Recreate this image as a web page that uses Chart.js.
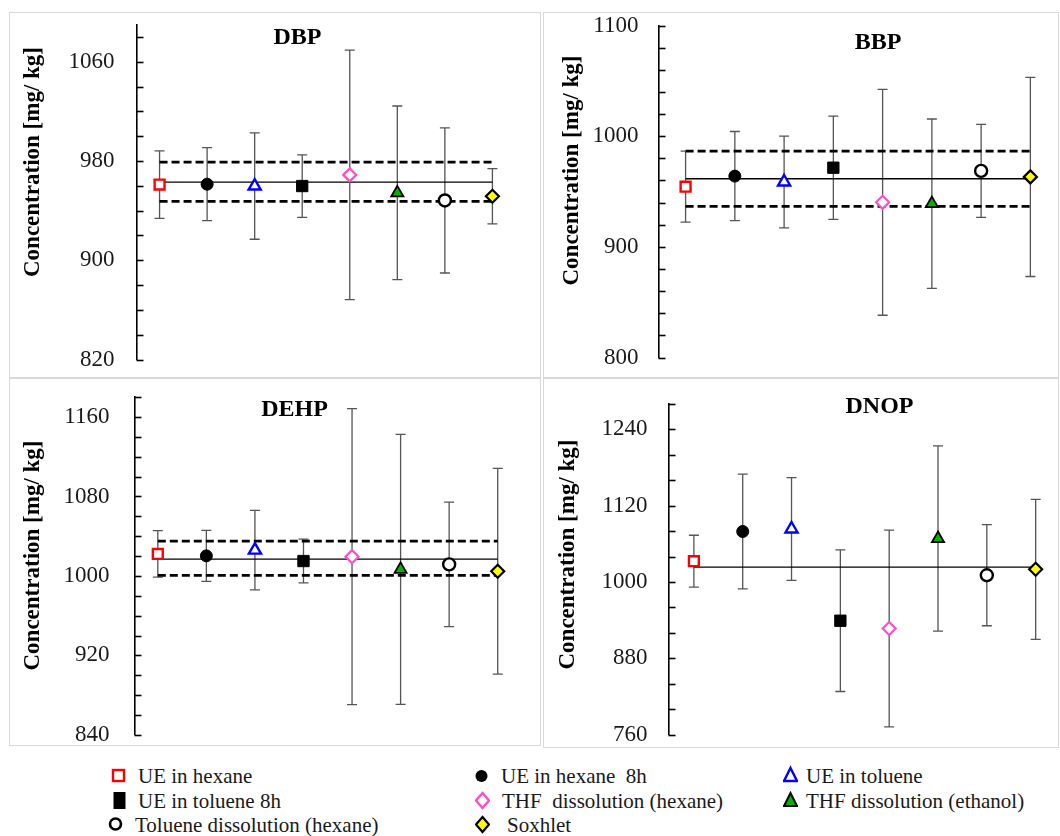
<!DOCTYPE html>
<html>
<head>
<meta charset="utf-8">
<script src="https://cdn.jsdelivr.net/npm/chart.js@4.4.1/dist/chart.umd.min.js"></script>
<style>
  body { margin: 0; background: #fff; font-family: 'Liberation Serif', Tinos, 'Times New Roman', 'DejaVu Serif', 'Noto Serif', serif; }
  .panel { position: absolute; border: 1.5px solid #d9d9d9; box-sizing: border-box; }
  .legend-item { position: absolute; height: 24px; line-height: 24px; font-size: 21px; color: #1a1a1a; white-space: pre; }
  .legend-item svg { position: absolute; top: 0; }
</style>
</head>
<body>
<div class="panel" style="left:9px;top:12px;width:532px;height:366px"><canvas id="dbp"></canvas></div>
<div class="panel" style="left:543px;top:12px;width:516px;height:366px"><canvas id="bbp"></canvas></div>
<div class="panel" style="left:9px;top:378px;width:532px;height:368px"><canvas id="dehp"></canvas></div>
<div class="panel" style="left:543px;top:378px;width:516px;height:370px"><canvas id="dnop"></canvas></div>
<div id="legend"></div>

<script>
// extraction methods, one marker each
const methods = ['UE in hexane', 'UE in hexane  8h', 'UE in toluene', 'UE in toluene 8h',
  'THF  dissolution (hexane)', 'THF dissolution (ethanol)', 'Toluene dissolution (hexane)', 'Soxhlet'];

// DBP
const dbpValues = [961, 961.3, 959.8, 959.8, 968.8, 954.3, 948.2, 951.6];
const dbpErrors = [27.2, 29.4, 42.9, 25.2, 100.6, 70, 58.5, 22.3];
const dbpRef = 963;
const dbpBand = [947.5, 979];
const dbpTicks = [820, 900, 980, 1060];

// BBP
const bbpValues = [954.4, 963.9, 958.6, 971.5, 940.2, 939, 968.6, 963.2];
const bbpErrors = [32, 40.3, 41.4, 46.6, 102, 76.5, 42, 90];
const bbpRef = 961.5;
const bbpBand = [936.5, 986.5];
const bbpTicks = [800, 900, 1000, 1100];

// DEHP
const dehpValues = [1022.2, 1020.2, 1026, 1015, 1019.4, 1006.6, 1011.6, 1004.7];
const dehpErrors = [23.5, 25.6, 40, 22, 149, 136, 62.7, 103.6];
const dehpRef = 1017;
const dehpBand = [1000.5, 1035];
const dehpTicks = [840, 920, 1000, 1080, 1160];

// DNOP
const dnopValues = [1032.8, 1079.4, 1083.3, 939.2, 927.1, 1068.4, 1010.7, 1020];
const dnopErrors = [40.7, 90, 80.7, 111.2, 154.6, 145.4, 79.4, 110];
const dnopRef = 1023.5;
const dnopBand = null;
const dnopTicks = [760, 880, 1000, 1120, 1240];

const serif = "'Liberation Serif', Tinos, 'Times New Roman', 'DejaVu Serif', 'Noto Serif', serif";

const markers = [
  { style: 'rect', r: 7, bg: '#ffffff', bd: '#ff0000', bw: 2.4 },
  { style: 'circle', r: 6, bg: '#000000', bd: '#000000', bw: 1 },
  { style: 'triangle', r: 7, bg: '#ffffff', bd: '#0000ff', bw: 2.4 },
  { style: 'rect', r: 8, bg: '#000000', bd: '#000000', bw: 1 },
  { style: 'rectRot', r: 6.5, bg: '#ffffff', bd: '#ff4dc4', bw: 2.2 },
  { style: 'triangle', r: 7, bg: '#00b400', bd: '#000000', bw: 1.8 },
  { style: 'circle', r: 6, bg: '#ffffff', bd: '#000000', bw: 2.4 },
  { style: 'rectRot', r: 6.5, bg: '#ffff00', bd: '#000000', bw: 2.2 }
];

const panels = {
  dbp: { title: 'DBP', values: dbpValues, errors: dbpErrors, ref: dbpRef, band: dbpBand, labels: dbpTicks,
    min: 820, max: 1090, step: 20, axisW: 126.5, pad: { top: 11.5, bottom: 17.5, right: 23.8 },
    xMin: 0.515, xMax: 8.5, labelPad: 22, yTitle: [23.5, 149], tTitle: [287.5, 24.5] },
  bbp: { title: 'BBP', values: bbpValues, errors: bbpErrors, ref: bbpRef, band: bbpBand, labels: bbpTicks,
    min: 800, max: 1100, step: 20, axisW: 114.5, pad: { top: 12.5, bottom: 19.5, right: 0 },
    xMin: 0.45, xMax: 8.37, labelPad: 20, yTitle: [28, 157.5], tTitle: [334, 29.5] },
  dehp: { title: 'DEHP', values: dehpValues, errors: dehpErrors, ref: dehpRef, band: dehpBand, labels: dehpTicks,
    min: 840, max: 1180, step: 20, axisW: 124.5, pad: { top: 18.2, bottom: 10.2, right: 18 },
    xMin: 0.52, xMax: 8.5, labelPad: 25, yTitle: [23.5, 176.5], tTitle: [284.5, 30.5] },
  dnop: { title: 'DNOP', values: dnopValues, errors: dnopErrors, ref: dnopRef, band: dnopBand, labels: dnopTicks,
    min: 760, max: 1280, step: 40, axisW: 124.5, pad: { top: 24.8, bottom: 12.2, right: 0 },
    xMin: 0.48, xMax: 8.265, labelPad: 21, yTitle: [24.5, 175.5], tTitle: [335.5, 27.5] }
};

Chart.defaults.font.family = serif;
Chart.defaults.color = '#1a1a1a';

const errorBars = {
  id: 'errorBars',
  beforeDatasetsDraw(chart) {
    const p = panels[chart.canvas.id];
    const { ctx } = chart;
    const x = chart.scales.x, y = chart.scales.y;
    ctx.save();
    ctx.strokeStyle = '#555555';
    ctx.lineWidth = 1.3;
    p.values.forEach((v, i) => {
      const px = x.getPixelForValue(i + 1);
      const top = y.getPixelForValue(v + p.errors[i]);
      const bot = y.getPixelForValue(v - p.errors[i]);
      ctx.beginPath();
      ctx.moveTo(px, top); ctx.lineTo(px, bot);
      ctx.moveTo(px - 5, top); ctx.lineTo(px + 5, top);
      ctx.moveTo(px - 5, bot); ctx.lineTo(px + 5, bot);
      ctx.stroke();
    });
    ctx.restore();
  }
};

const panelText = {
  id: 'panelText',
  afterDraw(chart) {
    const p = panels[chart.canvas.id];
    const { ctx, chartArea } = chart;
    const y = chart.scales.y;
    ctx.save();
    // inward tick marks
    ctx.strokeStyle = '#000';
    ctx.lineWidth = 1.6;
    y.ticks.forEach(t => {
      const py = Math.round(y.getPixelForValue(t.value)) + 0.5;
      ctx.beginPath();
      ctx.moveTo(chartArea.left, py);
      ctx.lineTo(chartArea.left + 7, py);
      ctx.stroke();
    });
    ctx.fillStyle = '#000';
    ctx.textAlign = 'center';
    ctx.textBaseline = 'middle';
    ctx.font = 'bold 24px ' + serif;
    ctx.fillText(p.title, p.tTitle[0], p.tTitle[1]);
    ctx.translate(p.yTitle[0], p.yTitle[1]);
    ctx.rotate(-Math.PI / 2);
    ctx.font = 'bold 23px ' + serif;
    ctx.fillText('Concentration [mg/ kg]', 0, 0);
    ctx.restore();
  }
};

function buildDatasets(p) {
  const sets = methods.map((m, i) => ({
    label: m,
    data: [{ x: i + 1, y: p.values[i] }],
    pointStyle: markers[i].style,
    pointRadius: markers[i].r,
    pointBackgroundColor: markers[i].bg,
    pointBorderColor: markers[i].bd,
    pointBorderWidth: markers[i].bw
  }));
  sets.push({
    type: 'line', label: 'mean', data: [{ x: 1, y: p.ref }, { x: 8, y: p.ref }],
    borderColor: '#000', borderWidth: 1.3, pointRadius: 0, fill: false
  });
  if (p.band) {
    p.band.forEach(b => sets.push({
      type: 'line', label: 'band', data: [{ x: 1, y: b }, { x: 8, y: b }],
      borderColor: '#000', borderWidth: 2.8, borderDash: [8, 4], pointRadius: 0, fill: false
    }));
  }
  return sets;
}

Object.keys(panels).forEach(id => {
  const p = panels[id];
  new Chart(document.getElementById(id), {
    type: 'scatter',
    data: { datasets: buildDatasets(p) },
    options: {
      responsive: true,
      maintainAspectRatio: false,
      animation: false,
      layout: { padding: { left: 0, top: p.pad.top, bottom: p.pad.bottom, right: p.pad.right } },
      plugins: { legend: { display: false }, tooltip: { enabled: false } },
      scales: {
        x: { type: 'linear', display: false, min: p.xMin, max: p.xMax },
        y: {
          min: p.min,
          max: p.max,
          bounds: 'data',
          grid: { display: false, drawTicks: false },
          border: { display: true, color: '#000', width: 1.6 },
          afterBuildTicks: s => {
            s.ticks = [];
            for (let v = p.min; v <= p.max; v += p.step) s.ticks.push({ value: v });
          },
          afterFit: s => {
            s.width = p.axisW;
            s.paddingTop = 0;
            s.paddingBottom = 0;
          },
          ticks: {
            autoSkip: false,
            padding: p.labelPad,
            color: '#1a1a1a',
            font: { size: 23, family: serif },
            callback: v => (p.labels.includes(v) ? String(v) : '')
          }
        }
      }
    },
    plugins: [errorBars, panelText]
  });
});

// legend below the panels
const legendPos = [
  { mx: 118, tx: 138, cy: 776 }, { mx: 481, tx: 501, cy: 776 }, { mx: 790, tx: 806, cy: 776 },
  { mx: 119, tx: 138, cy: 801 }, { mx: 482, tx: 502, cy: 801 }, { mx: 790, tx: 806, cy: 801 },
  { mx: 115, tx: 135, cy: 825 }, { mx: 482, tx: 507, cy: 825 }
];
const legendSvg = [
  '<rect x="2" y="6" width="11" height="11" fill="#fff" stroke="#ff0000" stroke-width="2.4"/>',
  '<circle cx="7.5" cy="12" r="6" fill="#000"/>',
  '<polygon points="7.5,4 14,17 1,17" fill="#fff" stroke="#0000ff" stroke-width="2.4"/>',
  '<rect x="1.5" y="3" width="12" height="17" fill="#000"/>',
  '<polygon points="7.5,4 14,11.5 7.5,19 1,11.5" fill="#fff" stroke="#ff4dc4" stroke-width="2.4"/>',
  '<polygon points="7.5,4 14,17 1,17" fill="#00b400" stroke="#000" stroke-width="2"/>',
  '<circle cx="7.5" cy="11" r="5.5" fill="#fff" stroke="#000" stroke-width="2.6"/>',
  '<polygon points="7.5,4 14,11.5 7.5,19 1,11.5" fill="#ffff00" stroke="#000" stroke-width="2.2"/>'
];
const legend = document.getElementById('legend');
methods.forEach((m, i) => {
  const pos = legendPos[i];
  const item = document.createElement('div');
  item.className = 'legend-item';
  item.style.left = pos.tx + 'px';
  item.style.top = (pos.cy - 12) + 'px';
  item.textContent = m;
  const svg = document.createElementNS('http://www.w3.org/2000/svg', 'svg');
  svg.setAttribute('width', '15');
  svg.setAttribute('height', '24');
  svg.style.left = (pos.mx - 7.5 - pos.tx) + 'px';
  svg.innerHTML = legendSvg[i];
  item.appendChild(svg);
  legend.appendChild(item);
});
</script>
</body>
</html>
